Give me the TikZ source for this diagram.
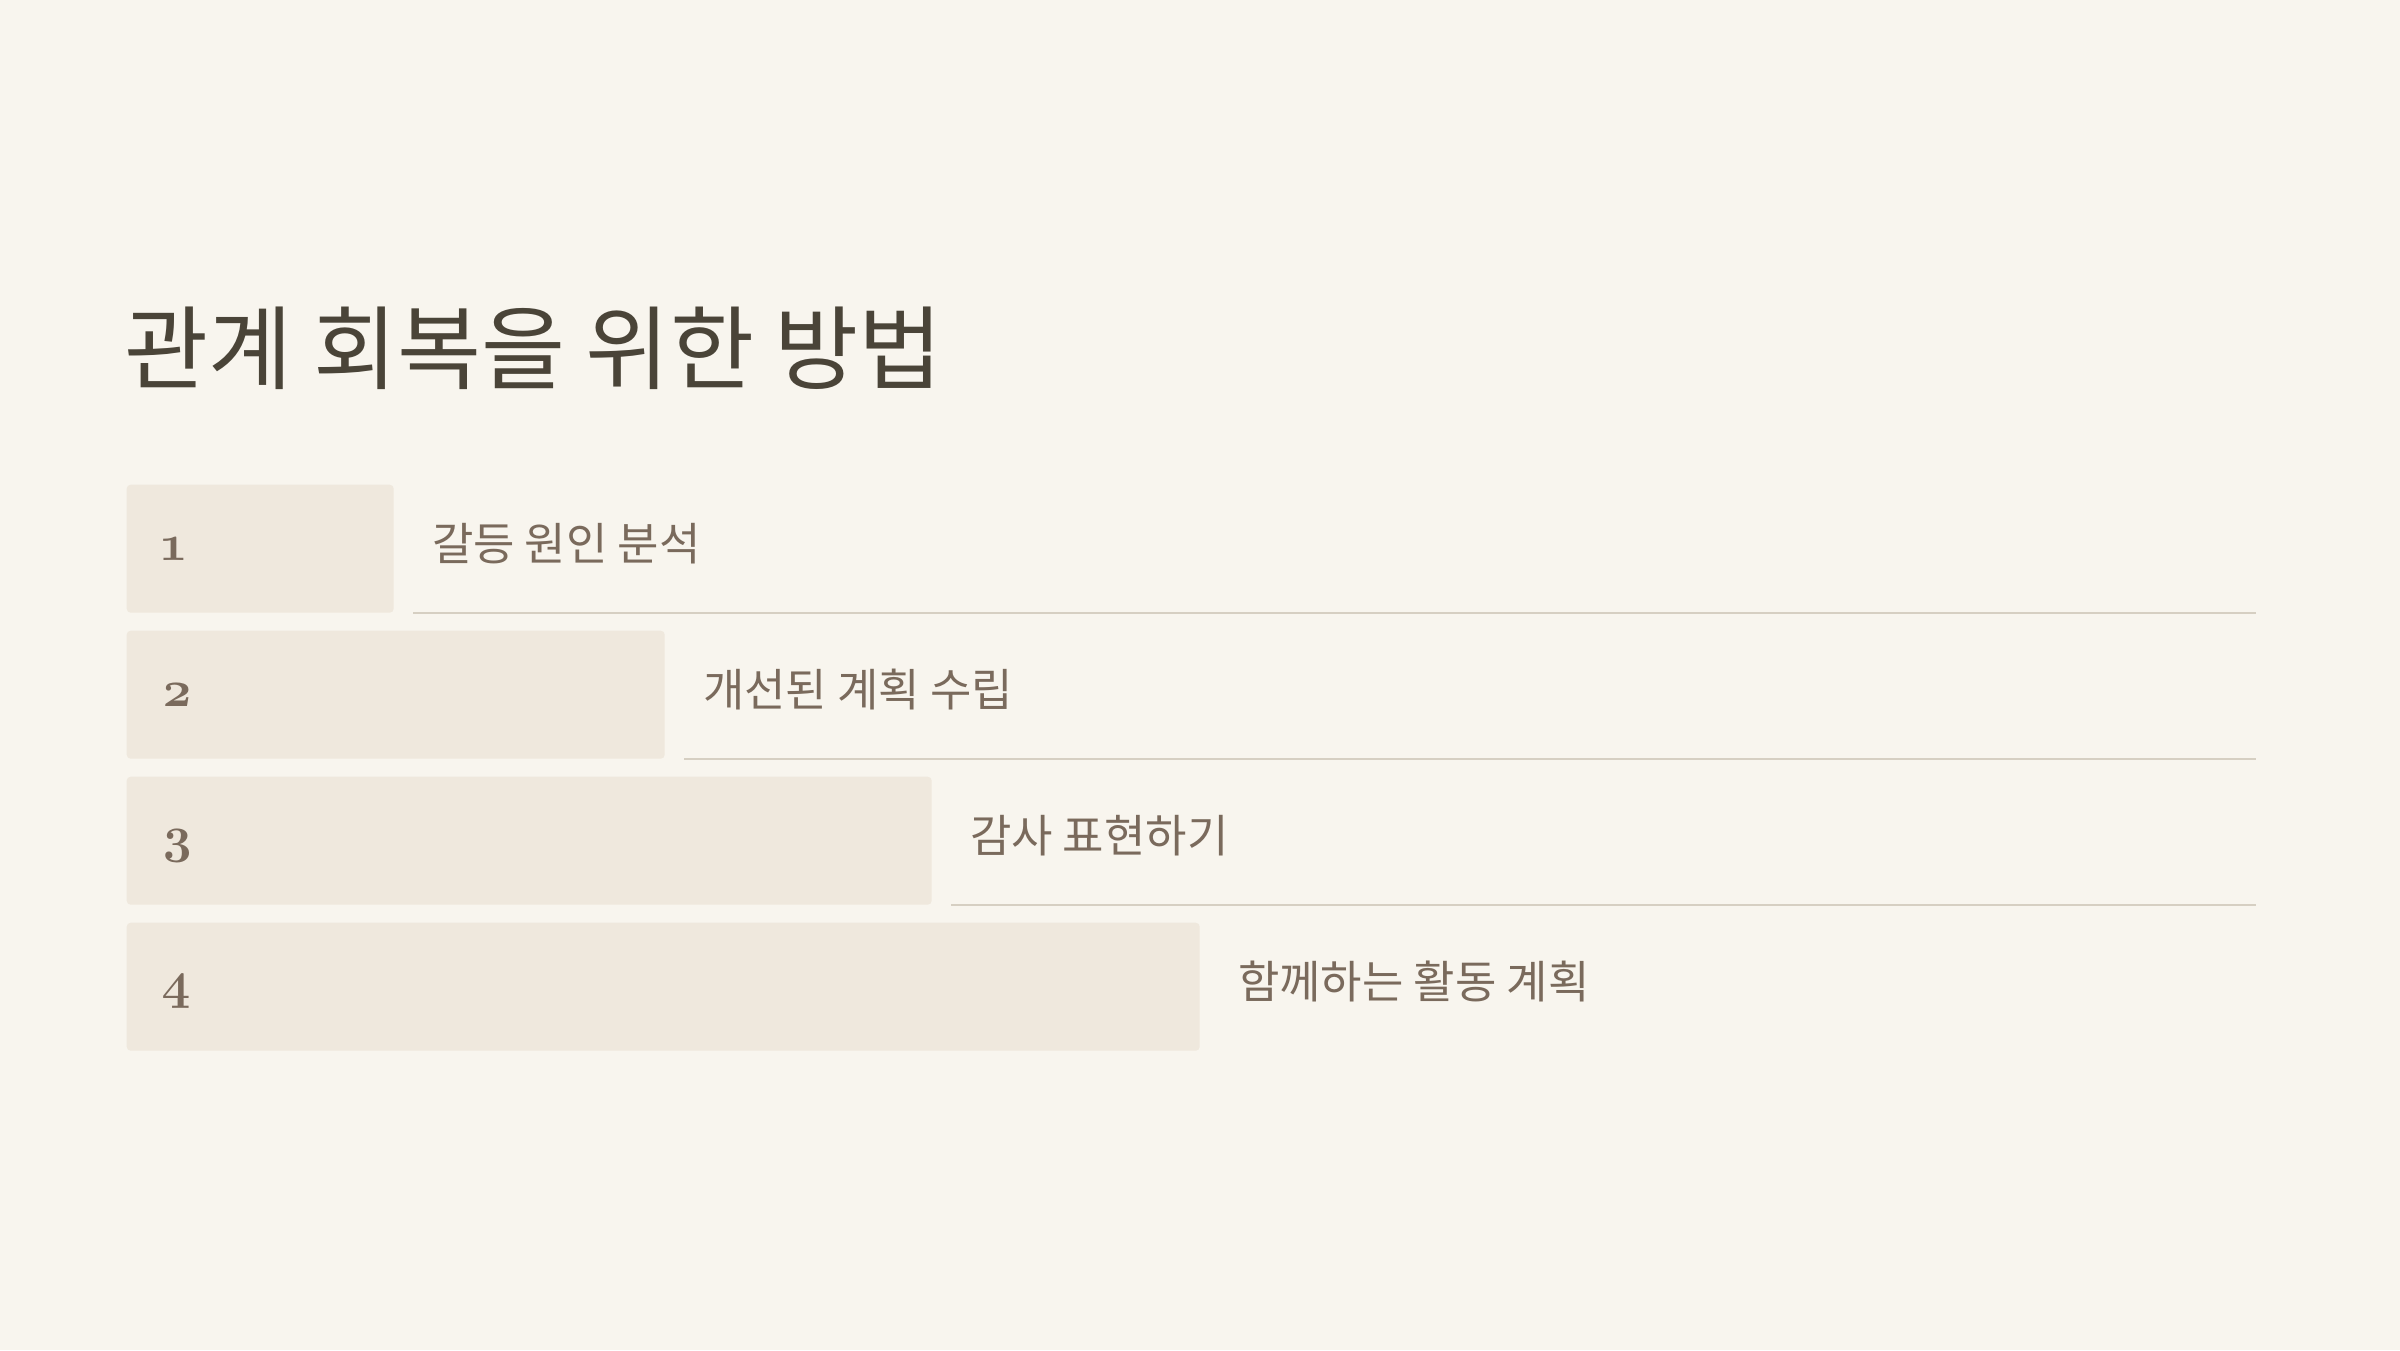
\documentclass[tikz,border=0pt]{standalone}
\usepackage{fontspec}
\usepackage{xcolor}
\usepackage{tikz}
\usetikzlibrary{positioning}

\newfontfamily\krfont{Noto Sans CJK KR}
\newfontfamily\numfont[Numbers=OldStyle]{Latin Modern Roman}

\definecolor{bgcream}{HTML}{F8F5EE}
\definecolor{barfill}{HTML}{EFE8DD}
\definecolor{titlecol}{HTML}{4A4438}
\definecolor{textcol}{HTML}{7A6A5C}
\definecolor{rulecol}{HTML}{D6CFC2}

\tikzset{
  stepbar/.style={fill=barfill, rounded corners=0.04cm, minimum height=1.28cm, inner sep=0pt, anchor=north west},
  stepnum/.style={text=textcol, font=\numfont\bfseries\fontsize{14.5}{14.5}\selectfont, anchor=base west, inner sep=0pt},
  steptext/.style={text=textcol, font=\krfont\fontsize{12.8}{12.8}\selectfont, anchor=base west, inner sep=0pt},
  sepline/.style={draw=rulecol, line width=0.02cm},
}

\begin{document}
\begin{tikzpicture}
\fill[bgcream] (0,0) rectangle (24,13.5);
\useasboundingbox (0,0) rectangle (24,13.5);

% title
\node[anchor=base west, inner sep=0pt, text=titlecol, font=\krfont\fontsize{26}{26}\selectfont] (title) at (1.24,9.68) {관계 회복을 위한 방법};

% bars
\node[stepbar, minimum width=2.67cm] (bar1) at (1.26,8.66) {};
\node[stepbar, minimum width=5.38cm] (bar2) at (1.26,7.20) {};
\node[stepbar, minimum width=8.05cm] (bar3) at (1.26,5.74) {};
\node[stepbar, minimum width=10.73cm] (bar4) at (1.26,4.28) {};

\node[stepnum] (num1) at ([xshift=0.35cm, yshift=-0.12cm]bar1.west) {1};
\node[stepnum] (num2) at ([xshift=0.35cm, yshift=-0.12cm]bar2.west) {2};
\node[stepnum] (num3) at ([xshift=0.35cm, yshift=-0.12cm]bar3.west) {3};
\node[stepnum] (num4) at ([xshift=0.35cm, yshift=-0.12cm]bar4.west) {4};

\node[steptext] (text1) at ([xshift=0.37cm, yshift=-0.12cm]bar1.east) {갈등 원인 분석};
\node[steptext] (text2) at ([xshift=0.37cm, yshift=-0.12cm]bar2.east) {개선된 계획 수립};
\node[steptext] (text3) at ([xshift=0.37cm, yshift=-0.12cm]bar3.east) {감사 표현하기};
\node[steptext] (text4) at ([xshift=0.37cm, yshift=-0.12cm]bar4.east) {함께하는 활동 계획};

% rules under rows
\coordinate (ruleend) at (22.56,0);
\draw[sepline] ([xshift=0.19cm]bar1.south east) -- (ruleend |- bar1.south);
\draw[sepline] ([xshift=0.19cm]bar2.south east) -- (ruleend |- bar2.south);
\draw[sepline] ([xshift=0.19cm]bar3.south east) -- (ruleend |- bar3.south);
\end{tikzpicture}
\end{document}
